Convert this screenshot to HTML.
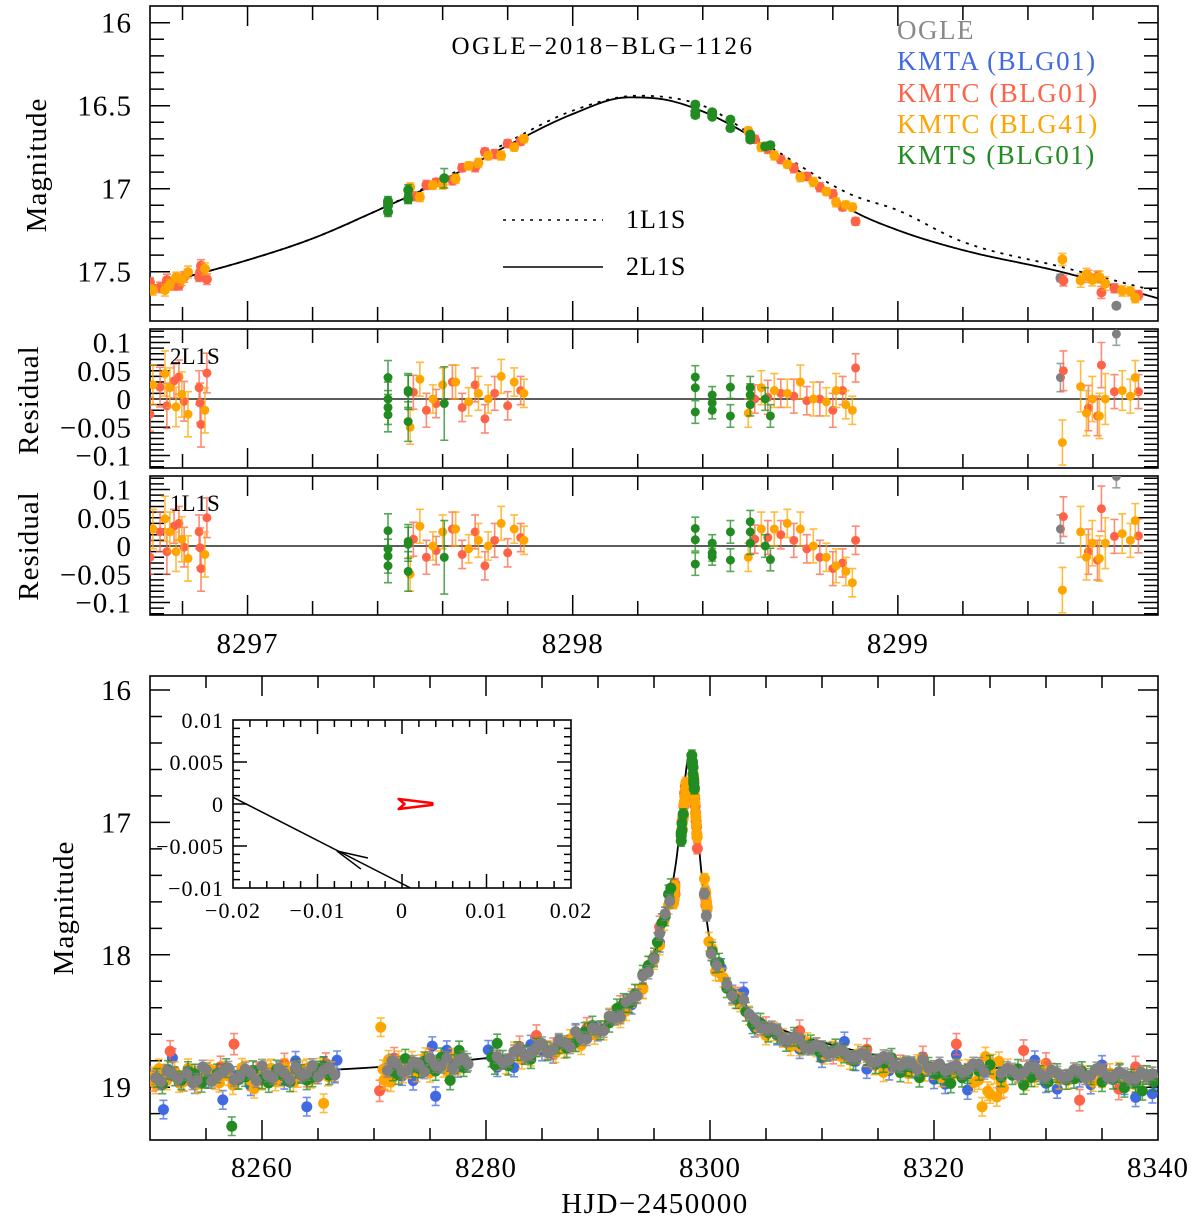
<!DOCTYPE html>
<html><head><meta charset="utf-8">
<style>
html,body{margin:0;padding:0;background:#fff;}
svg{display:block;}
text{font-family:"Liberation Serif",serif;}
</style></head>
<body>
<svg id="chart" xmlns="http://www.w3.org/2000/svg" width="1200" height="1220" viewBox="0 0 1200 1220" font-family="Liberation Serif, serif">
<defs>
<clipPath id="cTop"><rect x="150" y="6" width="1008" height="315"/></clipPath>
<clipPath id="cR1"><rect x="150" y="329" width="1008" height="139"/></clipPath>
<clipPath id="cR2"><rect x="150" y="476" width="1008" height="139"/></clipPath>
<clipPath id="cB"><rect x="150" y="676" width="1008" height="464"/></clipPath>
<clipPath id="cI"><rect x="233" y="720" width="338" height="168"/></clipPath>
</defs>
<g id="layer"></g>
<text transform="translate(46,165) rotate(-90)" text-anchor="middle" font-size="29" letter-spacing="1">Magnitude</text>
<text transform="translate(38,400) rotate(-90)" text-anchor="middle" font-size="29" letter-spacing="1">Residual</text>
<text transform="translate(38,546) rotate(-90)" text-anchor="middle" font-size="29" letter-spacing="1">Residual</text>
<text transform="translate(73,908) rotate(-90)" text-anchor="middle" font-size="29" letter-spacing="1">Magnitude</text>
<text x="655" y="1213" text-anchor="middle" font-size="29" letter-spacing="1.5">HJD−2450000</text>
<text x="603" y="54" text-anchor="middle" font-size="25" letter-spacing="2.5">OGLE−2018−BLG−1126</text>
<text x="897" y="39" font-size="27" letter-spacing="1.5" fill="#888">OGLE</text>
<text x="897" y="70" font-size="27" letter-spacing="1.5" fill="#4169e1">KMTA (BLG01)</text>
<text x="897" y="102" font-size="27" letter-spacing="1.5" fill="#ff6347">KMTC (BLG01)</text>
<text x="897" y="133" font-size="27" letter-spacing="1.5" fill="#ffa500">KMTC (BLG41)</text>
<text x="897" y="164" font-size="27" letter-spacing="1.5" fill="#228b22">KMTS (BLG01)</text>
<line x1="503" y1="220" x2="603" y2="220" stroke="#000" stroke-width="1.6" stroke-dasharray="3,6"/>
<text x="626" y="228" font-size="26" letter-spacing="1">1L1S</text>
<line x1="503" y1="267" x2="603" y2="267" stroke="#000" stroke-width="1.6"/>
<text x="626" y="275" font-size="26" letter-spacing="1">2L1S</text>
<text x="170" y="364" font-size="23">2L1S</text>
<text x="170" y="511" font-size="23">1L1S</text>
</svg>
<script>
// ===== model knots =====
const top2T = [8296.7,8297.0,8297.2,8297.4,8297.6,8297.8,8298.0,8298.17,8298.3,8298.5,8298.7,8298.85,8299.0,8299.2,8299.5,8299.8];
const top2M = [17.59,17.43,17.30,17.13,16.95,16.74,16.55,16.45,16.47,16.63,16.90,17.12,17.25,17.37,17.50,17.66];
const top1T = [8296.7,8297.0,8297.2,8297.4,8297.6,8297.8,8298.0,8298.2,8298.4,8298.6,8298.85,8299.0,8299.2,8299.5,8299.8];
const top1M = [17.59,17.43,17.30,17.13,16.94,16.72,16.53,16.44,16.50,16.74,17.03,17.13,17.32,17.47,17.62];
const botT = [8250,8260,8270,8280,8285,8288,8290,8292,8294,8295,8296,8297,8297.6,8298.2,8298.7,8299.2,8300,8301,8302,8304,8306,8310,8315,8320,8330,8340];
const botM = [18.90,18.89,18.85,18.78,18.71,18.63,18.55,18.42,18.20,18.00,17.71,17.28,16.80,16.47,16.85,17.35,17.90,18.12,18.25,18.45,18.55,18.66,18.76,18.82,18.87,18.89];

// ===== zoom-in data: time, 2L1S residual, 1L1S residual, error =====
const ogleT = [8299.50,8299.672];
const ogleR2 = [0.038,0.115];
const ogleR1 = [0.030,0.123];
const ogleE = [0.025,0.02];
const kmtcT = [8296.70,8296.731,8296.752,8296.774,8296.789,8296.805,8296.851,8296.854,8296.857,8296.875,8297.51,8297.55,8297.58,8297.63,8297.66,8297.70,8297.73,8297.76,8297.80,8297.84,8298.56,8298.60,8298.64,8298.68,8298.72,8298.76,8298.80,8298.83,8298.87,8299.509,8299.586,8299.614,8299.626,8299.666,8299.74];
const kmtcR2 = [-0.027,0.021,-0.012,0.032,0.039,-0.004,0.02,-0.007,-0.045,0.046,0.012,-0.02,-0.008,0.03,-0.015,0.025,-0.035,0.01,-0.012,0.015,0.0,0.003,0.01,0.005,-0.003,0.0,-0.02,0.015,0.055,0.05,-0.016,-0.03,0.06,0.013,0.013];
const kmtcR1 = [-0.02,0.025,-0.01,0.035,0.04,-0.002,0.025,-0.003,-0.04,0.05,0.012,-0.02,-0.008,0.03,-0.015,0.025,-0.035,0.01,-0.012,0.015,0.012,0.015,0.02,0.01,-0.005,-0.02,-0.04,-0.03,0.01,0.052,-0.01,-0.025,0.066,0.017,0.018];
const kmtcE = [0.03,0.035,0.04,0.03,0.03,0.035,0.03,0.035,0.04,0.035,0.03,0.03,0.025,0.03,0.025,0.03,0.025,0.03,0.025,0.025,0.025,0.03,0.025,0.03,0.025,0.03,0.03,0.025,0.025,0.035,0.04,0.035,0.04,0.03,0.03];
const kmtc41T = [8296.709,8296.746,8296.761,8296.780,8296.798,8296.817,8296.869,8297.50,8297.53,8297.57,8297.60,8297.64,8297.68,8297.71,8297.74,8297.78,8297.82,8297.85,8298.54,8298.58,8298.62,8298.66,8298.70,8298.74,8298.78,8298.81,8298.84,8298.86,8299.506,8299.562,8299.58,8299.598,8299.62,8299.638,8299.69,8299.715,8299.73];
const kmtc41R2 = [0.025,0.045,0.02,-0.014,0.008,-0.027,-0.02,-0.05,0.035,0.0,0.025,0.03,-0.005,0.01,0.0,0.04,0.03,0.01,-0.025,0.02,0.015,0.01,0.03,0.0,-0.005,0.015,-0.01,-0.02,-0.077,0.022,-0.025,0.0,-0.03,0.0,0.015,0.005,0.038];
const kmtc41R1 = [0.03,0.048,0.025,-0.01,0.012,-0.022,-0.015,-0.05,0.035,0.0,0.025,0.03,-0.005,0.01,0.0,0.04,0.03,0.01,-0.02,0.03,0.03,0.04,0.03,0.0,-0.02,-0.035,-0.045,-0.065,-0.078,0.025,-0.02,0.005,-0.022,0.005,0.022,0.01,0.045];
const kmtc41E = [0.035,0.04,0.035,0.035,0.04,0.04,0.04,0.03,0.03,0.025,0.03,0.03,0.025,0.03,0.025,0.03,0.025,0.025,0.025,0.03,0.03,0.025,0.03,0.03,0.025,0.03,0.025,0.025,0.04,0.045,0.04,0.04,0.04,0.045,0.035,0.03,0.03];
const kmtsT = [8297.432,8297.432,8297.432,8297.432,8297.494,8297.494,8297.494,8297.605,8298.377,8298.377,8298.377,8298.429,8298.429,8298.429,8298.485,8298.485,8298.546,8298.546,8298.546,8298.592,8298.608];
const kmtsR2 = [0.038,0.0,-0.015,-0.028,0.015,0.012,-0.04,-0.008,0.039,0.02,-0.023,0.007,-0.007,-0.02,0.021,-0.03,0.02,0.007,-0.01,0.0,-0.03];
const kmtsR1 = [0.027,-0.005,-0.018,-0.035,0.008,0.003,-0.045,-0.02,0.031,0.011,-0.032,0.005,-0.012,-0.019,0.025,-0.025,0.043,0.025,0.005,0.0,-0.024];
const kmtsE = [0.03,0.03,0.03,0.03,0.03,0.03,0.035,0.065,0.02,0.02,0.02,0.015,0.015,0.015,0.02,0.02,0.02,0.02,0.02,0.02,0.02];

// ===== full-season data: [time, deviation from 2L1S model] =====
const ogleB = [[8250.5,0.03],[8251,0.06],[8251.5,-0.02],[8252,0.0],[8252.5,0.04],[8253.3,0.0],[8253.8,0.07],[8254.2,0.05],[8254.7,-0.05],[8255,-0.03],[8255.5,0.06],[8256,0.02],[8256.6,-0.02],[8257,-0.04],[8257.5,0.05],[8258,0.03],[8258.5,-0.03],[8259,0.0],[8259.5,0.06],[8260,-0.05],[8260.5,0.02],[8261,0.04],[8261.5,-0.03],[8262,0.01],[8262.5,0.06],[8263,-0.03],[8263.5,0.03],[8264,0.02],[8264.5,-0.04],[8265,0.05],[8265.5,0.0],[8266,-0.02],[8266.5,0.04],[8271.2,0.03],[8271.6,-0.04],[8272,-0.02],[8272.5,0.05],[8273,0.04],[8273.5,-0.02],[8274,0.0],[8274.5,0.06],[8275,-0.04],[8275.5,0.02],[8276,0.03],[8276.5,-0.03],[8277,0.05],[8277.5,0.0],[8278,-0.02],[8278.4,0.03],[8281,0.0],[8281.5,0.05],[8282,0.04],[8282.5,-0.02],[8283,-0.03],[8283.5,0.03],[8284,0.02],[8284.5,-0.02],[8285,-0.04],[8285.5,0.04],[8286,0.03],[8286.5,-0.03],[8287,0.0],[8287.5,0.05],[8288,-0.05],[8288.5,0.02],[8289,0.04],[8289.5,-0.02],[8290,0.02],[8290.5,0.05],[8291,-0.03],[8291.5,0.02],[8292,0.05],[8292.5,-0.02],[8293,0.0],[8293.5,0.04],[8294,-0.04],[8294.5,0.02],[8295,0.03],[8295.5,-0.03],[8296,-0.02],[8296.4,0.03],[8300.1,0.05],[8300.6,0.02],[8301.5,0.03],[8302,0.06],[8303,-0.02],[8303.5,0.04],[8304,0.04],[8304.5,0.07],[8305,0.05],[8305.5,0.02],[8306,0.02],[8306.5,0.07],[8307,0.06],[8307.5,0.02],[8308,0.03],[8308.5,0.08],[8309,0.07],[8309.5,0.03],[8310,0.04],[8310.5,0.08],[8311,0.06],[8311.5,0.02],[8312,0.03],[8312.5,0.06],[8313,0.05],[8313.5,0.01],[8314,0.02],[8314.5,0.06],[8315,0.04],[8315.5,0.0],[8316,0.0],[8316.5,0.05],[8317,0.05],[8317.5,0.02],[8318,0.02],[8318.5,0.06],[8319,-0.02],[8319.5,0.04],[8320,0.03],[8320.5,0.0],[8321,0.05],[8321.5,0.02],[8322,0.0],[8322.5,0.05],[8323,0.03],[8323.5,-0.02],[8324,-0.02],[8324.5,0.04],[8326,0.04],[8326.5,0.0],[8327,0.01],[8327.5,0.05],[8328,0.03],[8328.5,-0.02],[8329,-0.02],[8329.5,0.04],[8330,0.05],[8330.5,0.0],[8331,0.02],[8331.5,0.05],[8332,0.04],[8332.5,-0.01],[8333,0.0],[8333.5,0.05],[8334,0.03],[8334.5,-0.02],[8335,-0.01],[8335.5,0.04],[8336,0.04],[8336.5,0.0],[8337,0.02],[8337.5,0.05],[8338,0.05],[8338.5,0.0],[8339,0.03],[8339.5,0.01]];
const kmtaB = [[8250.8,0.05],[8251.2,0.27],[8252,-0.12],[8253,0.06],[8254,0.08],[8255,0.04],[8256.5,0.2],[8257.5,0.02],[8259,0.1],[8260.5,0.03],[8262,0.06],[8263,-0.08],[8264,0.27],[8265.5,-0.03],[8266.5,0.03],[8266.7,-0.07],[8272.5,0.08],[8273.5,0.12],[8274.2,0.03],[8275.2,-0.13],[8275.5,0.25],[8276.5,-0.09],[8277.5,0.05],[8280.2,-0.06],[8281,0.08],[8282.5,0.1],[8284,-0.05],[8285,0.02],[8286,0.06],[8288,-0.04],[8290,0.03],[8293,0.05],[8295.5,0.04],[8301,-0.02],[8302,0.05],[8303,-0.08],[8304,0.1],[8306,0.06],[8308,0.1],[8310,0.12],[8312,-0.05],[8313,0.08],[8314,0.12],[8316,0.1],[8318,0.06],[8320,0.12],[8321,0.15],[8322,-0.08],[8323,0.18],[8325,0.0],[8328,0.06],[8329,-0.07],[8330,0.1],[8331,0.14],[8333,0.05],[8334,0.1],[8335,-0.05],[8337,0.1],[8338,0.19],[8339.5,0.16],[8339.8,0.05]];
const kmtcB = [[8250.3,0.05],[8251.8,-0.17],[8254,0.03],[8256.3,-0.05],[8257.5,-0.22],[8259.5,0.0],[8262,-0.06],[8264,0.04],[8265.7,-0.05],[8270.5,0.18],[8271,0.1],[8271.8,-0.06],[8273,0.02],[8275,-0.03],[8277,0.04],[8283,-0.05],[8284.5,-0.11],[8286,0.02],[8289,-0.04],[8292,-0.03],[8294,0.05],[8295.5,-0.08],[8302.5,0.02],[8305,0.04],[8308,-0.04],[8311,0.06],[8314,-0.03],[8317,0.05],[8319,-0.04],[8322,-0.16],[8324,0.03],[8326,0.15],[8328,-0.14],[8330,-0.05],[8333,0.22],[8335,0.03],[8336.5,0.13],[8338,-0.04]];
const kmtc41B = [[8250.2,0.02],[8250.5,0.08],[8250.8,-0.04],[8251.2,0.0],[8251.5,0.05],[8252.2,-0.02],[8252.6,0.07],[8253,0.06],[8253.4,-0.04],[8253.8,0.0],[8254.2,0.08],[8254.6,0.04],[8255,0.0],[8255.4,-0.03],[8255.8,0.05],[8256.2,0.07],[8256.6,-0.02],[8257,0.02],[8257.4,0.09],[8257.8,0.05],[8258.2,-0.04],[8258.6,-0.02],[8259,0.06],[8259.3,0.12],[8259.7,0.02],[8260,0.06],[8260.4,-0.02],[8260.8,-0.03],[8261.2,0.07],[8261.6,0.04],[8262,-0.03],[8262.4,0.0],[8262.8,0.08],[8263.2,0.05],[8263.6,-0.01],[8264,-0.02],[8264.4,0.06],[8264.8,0.03],[8265.2,-0.02],[8265.5,0.25],[8265.9,0.05],[8266.2,0.01],[8270.6,-0.3],[8270.8,0.02],[8270.9,0.1],[8271.1,0.08],[8271.3,-0.05],[8271.5,0.12],[8271.9,0.03],[8272.2,-0.04],[8272.6,0.06],[8273,0.03],[8273.4,-0.03],[8273.8,0.06],[8274.2,0.0],[8274.6,-0.05],[8275,0.07],[8275.4,0.02],[8275.8,-0.02],[8276.2,0.04],[8276.6,0.07],[8277,-0.03],[8277.4,0.03],[8277.8,0.02],[8281,0.03],[8281.8,0.07],[8282.5,-0.02],[8283.2,0.05],[8284,0.04],[8284.7,-0.02],[8285.5,0.02],[8286.2,0.06],[8287,0.05],[8287.5,-0.01],[8288,0.03],[8288.5,0.07],[8289,-0.02],[8289.7,0.04],[8290.5,0.05],[8291,-0.02],[8291.5,0.0],[8292,0.06],[8292.5,0.05],[8293,0.0],[8293.5,0.03],[8294,0.06],[8294.5,-0.03],[8295,0.04],[8295.5,0.06],[8295.9,0.0],[8296.3,0.02],[8296.6,0.05],[8299.9,0.05],[8300.2,-0.02],[8300.5,0.08],[8300.8,0.04],[8301.2,0.02],[8302,0.06],[8302.7,0.03],[8303.5,0.05],[8304.2,0.08],[8305,0.1],[8305.7,0.04],[8306.5,0.06],[8307.2,0.1],[8308,0.08],[8308.7,0.03],[8309.5,0.05],[8310.2,0.09],[8311,0.04],[8311.7,0.07],[8312.5,0.08],[8313.2,0.02],[8314,0.03],[8314.7,0.08],[8315.5,0.12],[8316.2,0.04],[8317,0.06],[8317.7,0.1],[8318.5,0.02],[8319.2,0.07],[8320,0.05],[8320.7,0.1],[8321.5,0.08],[8322.2,0.03],[8323,0.02],[8323.6,0.12],[8324,0.1],[8324.3,0.3],[8324.6,-0.08],[8324.8,0.18],[8325,0.2],[8325.2,-0.03],[8325.4,0.05],[8325.6,0.22],[8325.8,-0.05],[8326,0.1],[8326.2,0.15],[8326.6,0.0],[8327.5,0.04],[8328.2,0.09],[8329,0.06],[8329.7,0.0],[8330.5,0.02],[8331.2,0.07],[8332,0.07],[8332.7,0.02],[8333.5,0.03],[8334.2,0.08],[8335,0.05],[8335.7,0.01],[8336.5,0.0],[8337.2,0.07],[8338,0.06],[8338.7,0.02],[8339.5,0.03]];
const kmtsB = [[8250.6,0.03],[8251.1,0.08],[8251.6,-0.03],[8252.2,0.02],[8252.8,0.05],[8253.4,-0.02],[8254,0.0],[8254.6,0.07],[8255.2,0.04],[8256,0.0],[8256.8,-0.04],[8257.3,0.4],[8257.9,0.05],[8258.5,0.03],[8259.2,-0.02],[8260,0.05],[8260.6,0.08],[8261.3,-0.02],[8261.9,0.03],[8262.5,0.08],[8263,-0.02],[8263.5,0.02],[8264,0.07],[8264.5,0.05],[8265,0.0],[8265.5,-0.03],[8266,0.04],[8271.7,0.04],[8272.2,0.07],[8272.8,-0.05],[8273.4,0.02],[8274,0.03],[8274.5,-0.02],[8275,0.0],[8275.5,0.06],[8276,-0.04],[8276.8,0.14],[8277.2,0.02],[8277.6,-0.08],[8278,0.05],[8278.3,0.02],[8280.5,0.0],[8280.8,0.06],[8281,-0.1],[8281.5,0.03],[8282,0.08],[8282.8,-0.02],[8283.5,0.02],[8284,0.06],[8284.5,-0.02],[8285.5,0.03],[8286.5,0.0],[8287.2,0.05],[8288,0.03],[8288.8,-0.02],[8289.5,-0.04],[8290.2,0.03],[8291,0.02],[8291.7,-0.04],[8292.3,-0.03],[8292.8,0.02],[8293.3,0.0],[8294,-0.05],[8294.5,-0.03],[8295,0.02],[8295.3,-0.02],[8295.7,-0.05],[8296,0.0],[8296.3,-0.06],[8296.5,-0.03],[8300.2,0.0],[8300.5,0.02],[8300.8,-0.03],[8301.5,0.06],[8302.3,0.05],[8303.2,0.05],[8303.8,0.09],[8304.5,0.03],[8305.2,0.07],[8306,0.05],[8306.8,0.08],[8307.5,0.02],[8308.2,0.06],[8309,0.04],[8309.8,0.08],[8310.5,0.06],[8311.2,0.02],[8312,0.04],[8312.8,0.08],[8314,0.02],[8314.8,0.07],[8315.5,0.05],[8316.2,0.0],[8317,0.1],[8317.5,0.05],[8318,0.05],[8318.7,0.12],[8319.5,0.03],[8320.2,0.08],[8321,0.08],[8321.5,0.14],[8322,0.02],[8322.5,0.09],[8323,0.06],[8324,0.03],[8325,-0.02],[8326,0.07],[8327,0.05],[8327.5,0.0],[8328,0.12],[8328.7,0.06],[8329.5,0.04],[8330.2,0.09],[8331,0.02],[8331.8,0.07],[8332.5,0.06],[8333.2,0.0],[8334,0.03],[8335,0.08],[8336,0.06],[8336.6,0.01],[8337,0.12],[8337.6,0.05],[8338,0.08],[8338.6,0.14],[8339,0.02],[8339.6,0.07]];

// ===== inset data =====
const trajX = [-0.02, 0.0012];
const trajY = [0.0008, -0.0101];
const arrowPos = [-0.0077, -0.0056];
const causticX = [0.0036,-0.0004,0.0003,-0.0004,0.0036];
const causticY = [0.0001,0.0006,0.0,-0.0006,-0.0001];

// ===== tick label arrays =====
const topYTicks = [16,16.5,17,17.5];
const resYTicks = [0.1,0.05,0,-0.05,-0.1];
const topXTicks = [8297,8298,8299];
const botXTicks = [8260,8280,8300,8320,8340];
const botYTicks = [16,17,18,19];
const insetXTicks = [-0.02,-0.01,0,0.01,0.02];
const insetYTicks = [0.01,0.005,0,-0.005,-0.01];

// ===== scales =====
const xTop = t => 150 + (t - 8296.7) * 325.16;
const yTop = m => 22.7 + (m - 16) * 166;
const yR1 = r => 399 - r * 565;
const yR2 = r => 546 - r * 565;
const xB = t => 150 + (t - 8250) * 11.2;
const yB = m => 690 + (m - 16) * 132.4;
const xI = v => 402 + v * 8450;
const yI = v => 804 - v * 8400;

const NS = "http://www.w3.org/2000/svg";
const layer = document.getElementById('layer');
function mk(tag, attrs, parent) {
  const e = document.createElementNS(NS, tag);
  for (const k in attrs) e.setAttribute(k, attrs[k]);
  (parent || layer).appendChild(e);
  return e;
}
function fmt(v) { return (v < 0 ? '−' : '') + String(Math.abs(v)); }

function monotone(xs, ys) {
  const n = xs.length, d = [], m = new Array(n);
  for (let i = 0; i < n - 1; i++) d.push((ys[i+1]-ys[i])/(xs[i+1]-xs[i]));
  m[0] = d[0]; m[n-1] = d[n-2];
  for (let i = 1; i < n - 1; i++) m[i] = (d[i-1]*d[i] <= 0) ? 0 : (d[i-1]+d[i])/2;
  for (let i = 0; i < n - 1; i++) {
    if (d[i] === 0) { m[i] = 0; m[i+1] = 0; continue; }
    const a = m[i]/d[i], b = m[i+1]/d[i], s = a*a + b*b;
    if (s > 9) { const t = 3/Math.sqrt(s); m[i] = t*a*d[i]; m[i+1] = t*b*d[i]; }
  }
  return function(x) {
    let i = 0;
    if (x <= xs[0]) i = 0; else if (x >= xs[n-1]) i = n - 2;
    else while (x > xs[i+1]) i++;
    const h = xs[i+1]-xs[i], t = (x - xs[i]) / h;
    const h00 = 2*t*t*t-3*t*t+1, h10 = t*t*t-2*t*t+t, h01 = -2*t*t*t+3*t*t, h11 = t*t*t-t*t;
    return h00*ys[i] + h10*h*m[i] + h01*ys[i+1] + h11*h*m[i+1];
  };
}
const model2 = monotone(top2T, top2M);
const model1 = monotone(top1T, top1M);
const modelB = monotone(botT, botM);

function curvePath(fn, t0, t1, xs, ys, n) {
  let d = '';
  for (let i = 0; i <= n; i++) {
    const t = t0 + (t1 - t0) * i / n;
    d += (i ? 'L' : 'M') + xs(t).toFixed(2) + ',' + ys(fn(t)).toFixed(2);
  }
  return d;
}

// ===== panels (boxes + ticks) =====
function panel(name, x0, y0, x1, y1, xMaj, xMin, xs, yMaj, yMin, ys, lMaj, lMin) {
  const g = mk('g', {});
  
  
  const r = mk('rect', {x:x0, y:y0, width:x1-x0, height:y1-y0, fill:'none', stroke:'#000', 'stroke-width':1.6}, g);
  
  
  let d = '';
  xMin.forEach(v => { const x = xs(v); if (x < x0+0.5 || x > x1-0.5) return; d += `M${x},${y0}v${lMin}M${x},${y1}v${-lMin}`; });
  xMaj.forEach(v => { const x = xs(v); if (x < x0+0.5 || x > x1-0.5) return; d += `M${x},${y0}v${lMaj}M${x},${y1}v${-lMaj}`; });
  yMin.forEach(v => { const y = ys(v); if (y < y0+0.5 || y > y1-0.5) return; d += `M${x0},${y}h${lMin}M${x1},${y}h${-lMin}`; });
  yMaj.forEach(v => { const y = ys(v); if (y < y0+0.5 || y > y1-0.5) return; d += `M${x0},${y}h${lMaj}M${x1},${y}h${-lMaj}`; });
  const p = mk('path', {d:d, stroke:'#000', 'stroke-width':1.5, fill:'none'}, g);
  
  
  return g;
}
function range(a, b, s) { const o = []; for (let v = a; v <= b + s*0.01; v += s) o.push(Math.round(v*10000)/10000); return o; }

panel('top-panel', 150, 6, 1158, 321, range(8297,8299,1), range(8296.8,8299.8,0.2), xTop, range(16,17.5,0.5), range(16,17.7,0.1), yTop, 20, 14);
panel('residual-2l1s-panel', 150, 329, 1158, 468, range(8297,8299,1), range(8296.8,8299.8,0.2), xTop, range(-0.1,0.1,0.05), range(-0.12,0.12,0.01), yR1, 20, 14);
panel('residual-1l1s-panel', 150, 476, 1158, 615, range(8297,8299,1), range(8296.8,8299.8,0.2), xTop, range(-0.1,0.1,0.05), range(-0.12,0.12,0.01), yR2, 20, 14);
panel('bottom-panel', 150, 676, 1158, 1140, range(8260,8340,20), range(8255,8340,5), xB, range(16,19,1), range(16,19.4,0.2), yB, 20, 12);

// ===== tick labels =====
function label(name, x, y, txt, anchor, size) {
  const t = mk('text', {x:x, y:y, 'text-anchor':anchor, 'font-size':size, 'font-family':'Liberation Serif, serif', 'letter-spacing':1});
  t.textContent = txt;
  
  
}
topYTicks.forEach(v => label('top-y-tick-label', 132, yTop(v)+10, String(v), 'end', 29));
resYTicks.forEach(v => label('residual-2l1s-y-tick-label', 132, yR1(v)+10, fmt(v), 'end', 29));
resYTicks.forEach(v => label('residual-1l1s-y-tick-label', 132, yR2(v)+10, fmt(v), 'end', 29));
topXTicks.forEach(v => label('top-x-tick-label', xTop(v), 653, String(v), 'middle', 29));
botYTicks.forEach(v => label('bottom-y-tick-label', 132, yB(v)+10, String(v), 'end', 29));
botXTicks.forEach(v => label('bottom-x-tick-label', xB(v), 1177, String(v), 'middle', 29));

// ===== model curves =====
function curve(name, d, clip, dash) {
  const p = mk('path', {d:d, fill:'none', stroke:'#000', 'stroke-width':1.8, 'clip-path':'url(#' + clip + ')'});
  if (dash) p.setAttribute('stroke-dasharray', dash);
  
  
}
curve('model-1l1s-curve', curvePath(model1, 8296.7, 8299.8, xTop, yTop, 400), 'cTop', '3,6');
curve('model-2l1s-curve', curvePath(model2, 8296.7, 8299.8, xTop, yTop, 400), 'cTop');
function zeroLine(name, y) {
  const l = mk('line', {x1:150, x2:1158, y1:y, y2:y, stroke:'#444', 'stroke-width':1.8});
  
  
}
zeroLine('residual-2l1s-zero-line', yR1(0));
zeroLine('residual-1l1s-zero-line', yR2(0));

// ===== points =====
function point(name, group, x, y, eTop, eBot, col, rad, cap) {
  const g = mk('g', {}, group);
  
  
  mk('path', {d:`M${x},${eTop}V${eBot}M${x-cap},${eTop}h${2*cap}M${x-cap},${eBot}h${2*cap}`, stroke:col, 'stroke-width':1.6, 'stroke-opacity':0.75, fill:'none'}, g);
  mk('circle', {cx:x, cy:y, r:rad, fill:col}, g);
}
function seriesGroup(name, clip) {
  const g = mk('g', {'clip-path':'url(#' + clip + ')'});
  
  
  return g;
}
const zoomSeries = [
  ['ogle', '#808080', ogleT, ogleR2, ogleR1, ogleE],
  ['kmtc-blg01', '#ff6347', kmtcT, kmtcR2, kmtcR1, kmtcE],
  ['kmtc-blg41', '#ffa500', kmtc41T, kmtc41R2, kmtc41R1, kmtc41E],
  ['kmts-blg01', '#228b22', kmtsT, kmtsR2, kmtsR1, kmtsE]
];
zoomSeries.forEach(s => {
  const [nm, col, T, R2, R1, E] = s;
  const gT = seriesGroup('top-series-' + nm, 'cTop');
  const g1 = seriesGroup('residual-2l1s-series-' + nm, 'cR1');
  const g2 = seriesGroup('residual-1l1s-series-' + nm, 'cR2');
  T.forEach((t, i) => {
    const m = model2(t) + R2[i];
    point('top-point-' + nm, gT, xTop(t), yTop(m), yTop(m - E[i]*0.9), yTop(m + E[i]*0.9), col, 5, 4);
    point('residual-2l1s-point-' + nm, g1, xTop(t), yR1(R2[i]), yR1(R2[i] + E[i]), yR1(R2[i] - E[i]), col, 4.5, 4);
    point('residual-1l1s-point-' + nm, g2, xTop(t), yR2(R1[i]), yR2(R1[i] + E[i]), yR2(R1[i] - E[i]), col, 4.5, 4);
  });
});

// ===== bottom panel =====
curve('bottom-model-curve', curvePath(modelB, 8250, 8340, xB, yB, 1800), 'cB');
const bottomSeries = [
  ['kmta-blg01', '#4169e1', kmtaB, 0.07],
  ['kmtc-blg01', '#ff6347', kmtcB, 0.08],
  ['kmtc-blg41', '#ffa500', kmtc41B, 0.07],
  ['kmts-blg01', '#228b22', kmtsB, 0.07],
  ['ogle', '#808080', ogleB, 0.05]
];
const zoomByName = {};
zoomSeries.forEach(s => { zoomByName[s[0]] = s; });
bottomSeries.forEach(s => {
  const [nm, col, data, err] = s;
  const g = seriesGroup('bottom-series-' + nm, 'cB');
  data.forEach(p => {
    const m = modelB(p[0]) + p[1];
    point('bottom-point-' + nm, g, xB(p[0]), yB(m), yB(m - err), yB(m + err), col, 5.5, 4);
  });
  const z = zoomByName[nm];
  if (z) {
    z[2].forEach((t, i) => {
      const m = model2(t) + z[3][i];
      point('bottom-peak-point-' + nm, g, xB(t), yB(m), yB(m - 0.04), yB(m + 0.04), col, 5.5, 4);
    });
  }
});

// ===== inset =====
const ig = mk('g', {});


const ibg = mk('rect', {x:233, y:720, width:338, height:168, fill:'#fff'}, ig);


layer.appendChild(panel('inset-panel', 233, 720, 571, 888, range(-0.02,0.02,0.01), range(-0.02,0.02,0.002), xI, range(-0.01,0.01,0.005), range(-0.01,0.01,0.001), yI, 14, 7));
insetXTicks.forEach(v => label('inset-x-tick-label', xI(v), 918, fmt(v), 'middle', 22));
insetYTicks.forEach(v => label('inset-y-tick-label', 224, yI(v)+8, fmt(v), 'end', 22));
const tr = mk('path', {d:`M${xI(trajX[0])},${yI(trajY[0])}L${xI(trajX[1])},${yI(trajY[1])}`, stroke:'#000', 'stroke-width':1.5, fill:'none', 'clip-path':'url(#cI)'});


const ax = xI(arrowPos[0]), ay = yI(arrowPos[1]);
const ar = mk('path', {d:`M${ax+31},${ay+7}L${ax},${ay}L${ax+24},${ay+18}`, stroke:'#000', 'stroke-width':1.5, fill:'none'});


let cd = '';
causticX.forEach((v, i) => { cd += (i ? 'L' : 'M') + xI(v).toFixed(2) + ',' + yI(causticY[i]).toFixed(2); });
const ca = mk('path', {d:cd + 'Z', stroke:'#ff0000', 'stroke-width':2.5, fill:'none', 'stroke-linejoin':'round'});


</script>
</body></html>
